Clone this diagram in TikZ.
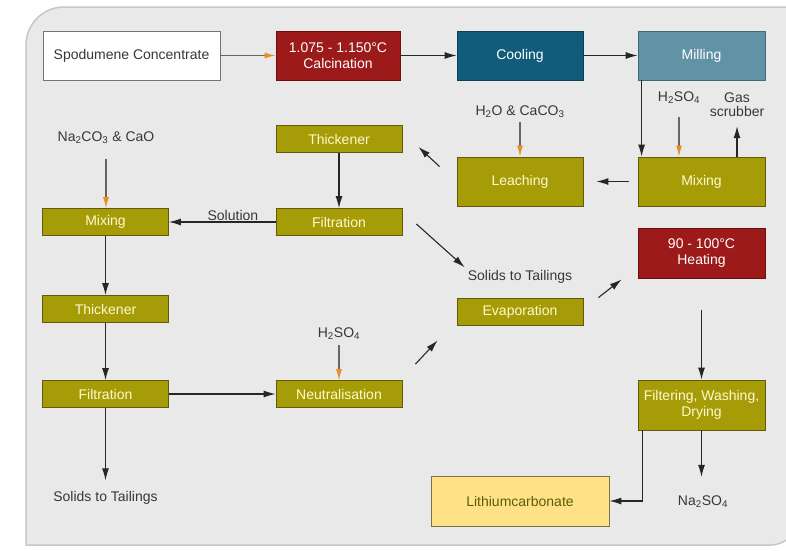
\documentclass[tikz,border=0pt]{standalone}
\usepackage{fontspec}
\setmainfont{Liberation Sans}
\usepackage{xcolor}
\usepackage{tikz}
\usetikzlibrary{arrows.meta,positioning}
\definecolor{oliva}{RGB}{166,156,8}
\definecolor{olivaescura}{RGB}{96,90,10}
\definecolor{textoclaro}{RGB}{255,250,205}
\definecolor{vermelhoescuro}{RGB}{156,26,26}
\definecolor{vermelhoborda}{RGB}{105,15,15}
\definecolor{azulpetroleo}{RGB}{16,92,122}
\definecolor{azulaco}{RGB}{98,146,166}
\definecolor{amareloclaro}{RGB}{255,226,136}
\definecolor{cinzafundo}{RGB}{233,233,233}
\definecolor{laranja}{RGB}{232,142,34}
\definecolor{cinzatexto}{RGB}{55,55,55}
\tikzset{
  caixa/.style={rectangle,draw=olivaescura,fill=oliva,text=textoclaro,line width=0.8pt,
    minimum width=126pt,minimum height=27pt,inner sep=1pt,align=center,
    font=\fontsize{14}{16}\selectfont},
  caixaalta/.style={caixa,minimum height=49pt},
  caixabranca/.style={caixaalta,draw=black!55,fill=white,text=cinzatexto,minimum width=177pt},
  caixavermelha/.style={caixaalta,draw=vermelhoborda,fill=vermelhoescuro,text=white,minimum width=124pt},
  caixaazul/.style={caixaalta,draw=azulpetroleo!70!black,fill=azulpetroleo,text=white},
  caixaaco/.style={caixaalta,draw=azulaco!70!black,fill=azulaco,text=white,minimum width=127pt},
  caixalitio/.style={caixaalta,draw=amareloclaro!50!black,fill=amareloclaro,text=olivaescura,
    minimum width=178pt,minimum height=50pt},
  seta/.style={-{Latex[length=12pt,width=7pt]},line width=1.1pt,black!85},
  setalaranja/.style={-{Latex[length=11pt,width=6pt,color=laranja]},line width=1.1pt,black!60}
}

\begin{document}
\begin{tikzpicture}[x=1pt,y=-1pt,
  rotulo/.style={inner sep=1pt,align=center,text=cinzatexto,font=\fontsize{14}{14}\selectfont}]
\useasboundingbox (0,0) rectangle (786,550);
\fill[white] (0,0) rectangle (786,550);
\draw[draw=black!22,fill=cinzafundo,line width=1.5pt] (26,545) -- (26,45)
  arc[start angle=180,end angle=270,radius=38] -- (800,7) -- (800,515)
  arc[start angle=0,end angle=90,radius=30] -- cycle;
\node[caixabranca] (espodumenio) at (131.5,55.5) {Spodumene Concentrate};
\node[caixavermelha] (calcinacao) at (338,55.5) {1.075 - 1.150°C\\Calcination};
\node[caixaazul] (resfriamento) at (520,55.5) {Cooling};
\node[caixaaco] (moagem) at (701.5,55.5) {Milling};
\node[caixa] (espessador) at (339,139) {Thickener};
\node[caixaalta] (lixiviacao) at (520,181.5) {Leaching};
\node[caixaalta,minimum width=127pt] (mistura) at (701.5,181.5) {Mixing};
\node[caixa] (misturab) at (105.5,222) {Mixing};
\node[caixa] (filtracao) at (339,222) {Filtration};
\node[caixa] (espessadorb) at (105.5,309) {Thickener};
\node[caixa] (filtracaob) at (105.5,394) {Filtration};
\node[caixa] (neutralizacao) at (339,394) {Neutralisation};
\node[caixa] (evaporacao) at (520,311.5) {Evaporation};
\node[caixavermelha,minimum width=127pt,minimum height=50pt] (aquecimento) at (701.5,253) {90 - 100°C\\Heating};
\node[caixaalta,minimum width=127pt,minimum height=50pt] (filtragem) at (701.5,405) {Filtering, Washing,\\Drying};
\node[caixalitio] (carbonato) at (520,501) {Lithiumcarbonate};
\node[rotulo] (na2co3) at (106,138) {Na\textsubscript{2}CO\textsubscript{3} \& CaO};
\node[rotulo] (h2o) at (520,112) {H\textsubscript{2}O \& CaCO\textsubscript{3}};
\node[rotulo] (h2so4) at (679,98) {H\textsubscript{2}SO\textsubscript{4}};
\node[rotulo] (gas) at (737,105) {Gas\\scrubber};
\node[rotulo] (rejeito) at (520,277) {Solids to Tailings};
\node[rotulo] (h2so4b) at (339,334) {H\textsubscript{2}SO\textsubscript{4}};
\node[rotulo] (rejeitob) at (105.5,498) {Solids to Tailings};
\node[rotulo] (na2so4) at (703,502) {Na\textsubscript{2}SO\textsubscript{4}};
\draw[setalaranja] (espodumenio) -- (calcinacao);
\draw[seta] (calcinacao) -- (resfriamento);
\draw[seta] (resfriamento) -- (moagem);
\draw[seta] ([shift={(4,0)}]moagem.south west) -- ([shift={(4,0)}]mistura.north west);
\draw[setalaranja,shorten <=12pt] (h2so4.south) -- (h2so4.south |- mistura.north);
\draw[seta,shorten >=8pt] (mistura.north -| gas) -- (gas.south);
\draw[setalaranja,shorten <=3pt] (h2o.south) -- (lixiviacao.north);
\draw[seta,shorten <=9pt,shorten >=13pt] (mistura) -- (lixiviacao);
\draw[seta] ([shift={(-17,10)}]lixiviacao.north west) -- ([shift={(16,-6)}]espessador.south east);
\draw[seta] (espessador) -- (filtracao);
\draw[seta] (filtracao) -- node[rotulo,above,pos=0.4] {Solution} (misturab);
\draw[seta] ([shift={(14,2)}]filtracao.east) -- ([shift={(-2,-2)}]rejeito.north west);
\draw[setalaranja,shorten <=14pt] (na2co3.south) -- (na2co3.south |- misturab.north);
\draw[seta] (misturab) -- (espessadorb);
\draw[seta] (espessadorb) -- (filtracaob);
\draw[seta,shorten >=10pt] (filtracaob.south) -- (filtracaob.south |- rejeitob.north);
\draw[seta] (filtracaob) -- (neutralizacao);
\draw[setalaranja,shorten <=4pt] (h2so4b.south) -- (h2so4b.south |- neutralizacao.north);
\draw[seta] ([shift={(13,-16)}]neutralizacao.north east) -- ([shift={(-19,15)}]evaporacao.south west);
\draw[seta] ([shift={(15,0)}]evaporacao.north east) -- ([shift={(-16,1)}]aquecimento.south west);
\draw[seta,shorten <=32pt] (aquecimento) -- (filtragem);
\draw[seta,shorten >=18pt] (filtragem.south) -- (filtragem.south |- na2so4.north);
\draw[seta] ([shift={(5,0)}]filtragem.south west) |- (carbonato.east);
\end{tikzpicture}
\end{document}
